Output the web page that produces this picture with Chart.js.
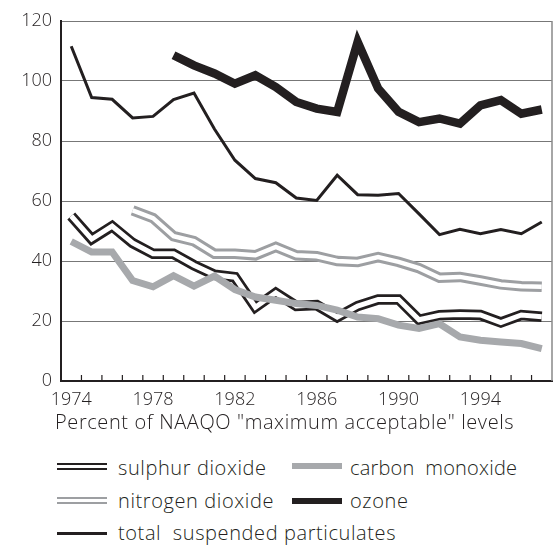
<!DOCTYPE html>
<html>
<head>
<meta charset="utf-8">
<script src="https://cdn.jsdelivr.net/npm/chart.js@4"></script>
<style>
  body { margin: 0; background: #fff; font-family: 'Open Sans', sans-serif; font-weight: 300; color: #231f20; }
  #wrap { position: relative; width: 557px; height: 546px; overflow: hidden; }
  #chartBox { position: absolute; left: 0; top: 0; width: 557px; height: 415px; }
  .txt { position: absolute; font-size: 20px; line-height: 24px; letter-spacing: 0.6px; white-space: nowrap; }
  .sw { position: absolute; width: 50px; box-sizing: border-box; }
</style>
</head>
<body>
<div id="wrap">
  <div id="chartBox"><canvas id="chart"></canvas></div>
  <div class="txt" style="left:55px; top:410px;">Percent of NAAQO "maximum acceptable" levels</div>

  <div class="sw" style="left:57px; top:463px; height:7px; border-top:2.5px solid #231f20; border-bottom:2.5px solid #231f20;"></div>
  <div class="txt" style="left:118px; top:456px;">sulphur dioxide</div>
  <div class="sw" style="left:292px; top:463px; height:6px; background:#a7a9ac;"></div>
  <div class="txt" style="left:350px; top:456px; letter-spacing:0.2px;">carbon&nbsp; monoxide</div>

  <div class="sw" style="left:57px; top:497px; height:7px; border-top:2.5px solid #9d9fa2; border-bottom:2.5px solid #9d9fa2;"></div>
  <div class="txt" style="left:118px; top:489px;">nitrogen dioxide</div>
  <div class="sw" style="left:292px; top:498px; height:6px; background:#231f20;"></div>
  <div class="txt" style="left:350px; top:489px;">ozone</div>

  <div class="sw" style="left:57px; top:532px; height:3px; background:#231f20;"></div>
  <div class="txt" style="left:118px; top:521px;">total&nbsp; suspended particulates</div>
</div>
<script>
// years on the x axis, one point per year
const years = ['1974','1975','1976','1977','1978','1979','1980','1981','1982','1983','1984','1985',
               '1986','1987','1988','1989','1990','1991','1992','1993','1994','1995','1996','1997'];
const shownYears = ['1974','1978','1982','1986','1990','1994'];
const yTicks = [0, 20, 40, 60, 80, 100, 120];

// percent of NAAQO maximum acceptable level
const sulphurDioxide = [55.0, 47.3, 51.6, 46.0, 42.4, 42.4, 38.6, 35.4, 34.6, 24.6, 29.4, 25.0,
                        25.3, 21.3, 25.0, 27.2, 27.2, 20.4, 21.9, 22.2, 22.0, 19.5, 22.0, 21.4];
const nitrogenDioxide = [null, null, null, 56.9, 54.3, 48.3, 46.6, 42.4, 42.4, 41.9, 44.7, 41.9,
                         41.6, 40.0, 39.7, 41.3, 39.7, 37.6, 34.4, 34.7, 33.5, 32.2, 31.6, 31.4];
const carbonMonoxide = [46.5, 43.0, 43.0, 33.5, 31.4, 35.1, 31.6, 35.0, 30.5, 28.0, 26.9, 25.8,
                        25.2, 23.6, 21.3, 20.8, 18.6, 17.5, 19.1, 14.7, 13.6, 13.0, 12.5, 10.8];
const ozone = [null, null, null, null, null, 108.6, 105.2, 102.5, 99.1, 101.9, 98.0, 93.0,
               90.8, 89.7, 113.0, 97.5, 89.7, 86.3, 87.5, 85.8, 91.9, 93.6, 89.1, 90.5];
const suspendedParticulates = [111.6, 94.5, 93.9, 87.7, 88.2, 93.8, 96.0, 84.0, 73.6, 67.5, 66.1, 61.0,
                               60.2, 68.6, 62.1, 61.9, 62.5, 55.7, 48.8, 50.6, 49.1, 50.5, 49.1, 53.0];

const BLACK = '#231f20';
const GREY_NO2 = '#9d9fa2';
const GREY_CO = '#a7a9ac';
const FONT = { family: 'Open Sans', size: 18, weight: '300' };

function line(data, color, width, order) {
  return {
    data: data,
    borderColor: color,
    borderWidth: width,
    pointRadius: 0,
    tension: 0,
    fill: false,
    borderJoinStyle: 'miter',
    borderCapStyle: 'butt',
    order: order
  };
}

// small inward tick marks between the years, plus the right frame line
const frame = {
  id: 'frame',
  afterDraw(chart) {
    const ctx = chart.ctx;
    const area = chart.chartArea;
    const x = chart.scales.x;
    ctx.save();
    ctx.strokeStyle = '#888';
    ctx.lineWidth = 1.5;
    ctx.beginPath();
    ctx.moveTo(area.right, area.top);
    ctx.lineTo(area.right, area.bottom);
    ctx.stroke();
    ctx.strokeStyle = BLACK;
    ctx.lineWidth = 1.2;
    for (let i = 1; i < years.length; i++) {
      const px = (x.getPixelForValue(i - 1) + x.getPixelForValue(i)) / 2;
      ctx.beginPath();
      ctx.moveTo(px, area.bottom);
      ctx.lineTo(px, area.bottom - 6);
      ctx.stroke();
    }
    ctx.restore();
  }
};

new Chart(document.getElementById('chart'), {
  type: 'line',
  data: {
    labels: years,
    datasets: [
      line(sulphurDioxide, BLACK, 10.5, 6),
      line(sulphurDioxide, '#ffffff', 5, 5),
      line(nitrogenDioxide, GREY_NO2, 10.5, 4),
      line(nitrogenDioxide, '#ffffff', 4.5, 3),
      line(carbonMonoxide, GREY_CO, 7, 2),
      line(suspendedParticulates, BLACK, 3, 1),
      line(ozone, BLACK, 8.5, 0)
    ]
  },
  options: {
    responsive: true,
    maintainAspectRatio: false,
    animation: false,
    layout: { padding: { top: 21, right: 5, left: 0, bottom: 0 } },
    plugins: { legend: { display: false }, tooltip: { enabled: false } },
    scales: {
      x: {
        offset: true,
        grid: { display: false, drawTicks: false },
        border: { color: BLACK, width: 2 },
        ticks: {
          autoSkip: false,
          maxRotation: 0,
          padding: 8,
          color: BLACK,
          font: FONT,
          callback: (v, i) => shownYears.includes(years[i]) ? years[i] : ''
        },
        afterFit: s => { s.height = 34; }
      },
      y: {
        min: 0,
        max: 120,
        afterBuildTicks: s => { s.ticks = yTicks.map(v => ({ value: v })); },
        grid: { color: '#777', lineWidth: 1, drawTicks: false },
        border: { color: BLACK, width: 2 },
        ticks: {
          padding: 9,
          color: BLACK,
          font: FONT
        },
        afterFit: s => { s.width = 61; }
      }
    }
  },
  plugins: [frame]
});
</script>
</body>
</html>
